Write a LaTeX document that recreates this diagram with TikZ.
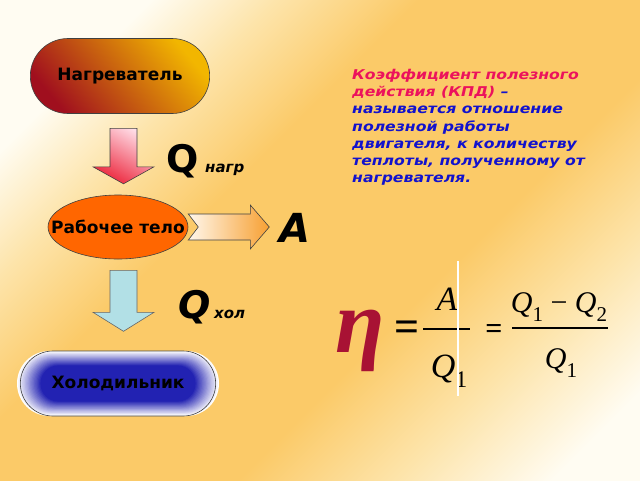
\documentclass[tikz,border=0pt]{standalone}
\usepackage{fontspec}
\setmainfont{DejaVu Sans}
\newfontfamily\widefont[FakeStretch=1.16]{DejaVu Sans}
\newfontfamily\formfont{Liberation Serif}
\usetikzlibrary{shapes.misc,shapes.geometric,calc}
\definecolor{bglight}{RGB}{255,252,242}
\definecolor{bgmid}{RGB}{253,228,170}
\definecolor{bgorange}{RGB}{251,202,104}
\definecolor{heatdark}{RGB}{160,15,30}
\definecolor{heatmid}{RGB}{212,98,25}
\definecolor{heatgold}{RGB}{242,182,0}
\definecolor{workorange}{RGB}{255,102,0}
\definecolor{pinklight}{RGB}{255,222,232}
\definecolor{pinkred}{RGB}{236,36,58}
\definecolor{arrlight}{RGB}{255,247,235}
\definecolor{arrorange}{RGB}{247,160,50}
\definecolor{coldarrow}{RGB}{178,224,230}
\definecolor{glowblue}{RGB}{34,34,178}
\definecolor{defred}{RGB}{236,18,92}
\definecolor{defblue}{RGB}{18,18,205}
\definecolor{etared}{RGB}{168,18,52}
\pgfdeclarehorizontalshading{bgshade}{100bp}{color(0bp)=(bglight); color(24bp)=(bglight); color(32bp)=(bgmid); color(41bp)=(bgorange); color(60bp)=(bgorange); color(70bp)=(bgmid); color(80bp)=(bglight); color(100bp)=(bglight)}
\makeatletter
\newcommand{\qsub}[1]{\textit{Q}\raisebox{-0.3em}{\fontsize{\dimexpr 0.7\dimexpr\f@size pt\relax\relax}{1em}\selectfont #1}}
\makeatother
\tikzset{
  border/.style={draw=black!75, line width=0.6pt},
  blocktext/.style={font=\fontsize{17}{20}\selectfont\bfseries, text=black},
  bigq/.style={font=\fontsize{38}{40}\selectfont\bfseries, inner sep=0pt, anchor=base west},
  subq/.style={font=\fontsize{15}{17}\selectfont\bfseries\itshape, inner sep=0pt, anchor=base west},
  mathpart/.style={inner sep=0pt, font=\formfont\fontsize{#1}{#1}\selectfont},
}
\begin{document}
\begin{tikzpicture}[x=1pt,y=-1pt]
\useasboundingbox (0,0) rectangle (640,480);
\shade[shading=bgshade, shading angle=-45] (0,0) rectangle (640,480);

% heater
\node[rounded rectangle, border, minimum width=186pt, minimum height=75pt,
      bottom color=heatdark, middle color=heatmid, top color=heatgold, shading angle=-50,
      blocktext] (heat) at (120,76) {Нагреватель};

% working body
\node[ellipse, border, minimum width=140pt, minimum height=64pt, fill=workorange,
      inner sep=0pt] (work) at (118,227) {};
\node[blocktext, inner sep=0pt] (workt) at (work.center) {Рабочее тело};

% cold glow
\foreach \i in {0,...,18}{
  \pgfmathsetmacro\dx{\i*1.3}
  \pgfmathsetmacro\dy{\i*0.8}
  \pgfmathsetmacro\rr{32.4-\dy}
  \pgfmathtruncatemacro\pp{\i*100/18}
  \fill[glowblue!\pp!white, rounded corners=\rr pt] (17+\dx,351+\dy) rectangle (219-\dx,416-\dy);
}
\node[rounded rectangle, border, minimum width=202pt, minimum height=65pt,
      blocktext] (cold) at (118,383.5) {Холодильник};

% pink arrow
\draw[border, top color=pinklight, bottom color=pinkred, shading angle=-30]
  ($(heat.south)+(-10,14.5)$) -- ++(27,0) -- ++(0,38.5) -- ++(17,0) -- ++(-30.5,17)
  -- ++(-30.5,-17) -- ++(17,0) -- cycle;

% right arrow
\draw[border, left color=arrlight, right color=arrorange]
  ($(work.east)+(0,-13)$) -- ++(62,0) -- ++(0,-9) -- ++(19,22) -- ++(-19,22)
  -- ++(0,-9) -- ++(-62,0) -- ++(10,-13) -- cycle;

% blue arrow
\draw[border, draw=black!60, fill=coldarrow]
  ($(work.south)+(-8,11)$) -- ++(27,0) -- ++(0,42) -- ++(17,0) -- ++(-30.5,19)
  -- ++(-30.5,-19) -- ++(17,0) -- cycle;

% labels
\node[bigq] (qh) at (166,172) {Q};
\node[subq] (qhs) at (205,172) {нагр};
\node[bigq, font=\fontsize{40}{42}\selectfont\bfseries\itshape] (aw) at (279,242) {A};
\node[bigq, font=\fontsize{38}{40}\selectfont\bfseries\itshape] (qc) at (178,318) {Q};
\node[subq] (qcs) at (214,318) {хол};

% definition
\node[anchor=north west, inner sep=0pt, align=left,
      font=\widefont\fontsize{13.5}{17.2}\selectfont\bfseries\itshape, text=defblue] (def) at (352,69)
  {\textcolor{defred}{Коэффициент полезного}\\
   \textcolor{defred}{действия (КПД)} –\\
   называется отношение\\
   полезной работы\\
   двигателя, к количеству\\
   теплоты, полученному от\\
   нагревателя.};

% formula
\node[mathpart=90, text=etared, anchor=base] (eta) at (360,352) {\bfseries\itshape η};
\node[mathpart=44, anchor=base] (eq1) at (407,341) {\bfseries =};
\coordinate (f1l) at (423,329);
\coordinate (f1r) at (470,329);
\draw[line width=2pt] (f1l) -- (f1r);
\node[mathpart=34, anchor=base] (fa) at (447,310) {\textit{A}};
\node[mathpart=34, anchor=base] (fq) at (449,377) {\qsub{1}};
\coordinate (wl1) at (458,261);
\coordinate (wl2) at (458,396);
\draw[white, line width=2pt] (wl1) -- (wl2);
\node[mathpart=30, anchor=base] (eq2) at (494,338) {\bfseries =};
\coordinate (f2l) at (512,328);
\coordinate (f2r) at (608,328);
\draw[line width=1.4pt] (f2l) -- (f2r);
\node[mathpart=30, anchor=base] (num) at (559,312) {\qsub{1} − \qsub{2}};
\node[mathpart=30, anchor=base] (den) at (561,368) {\qsub{1}};
\end{tikzpicture}
\end{document}
